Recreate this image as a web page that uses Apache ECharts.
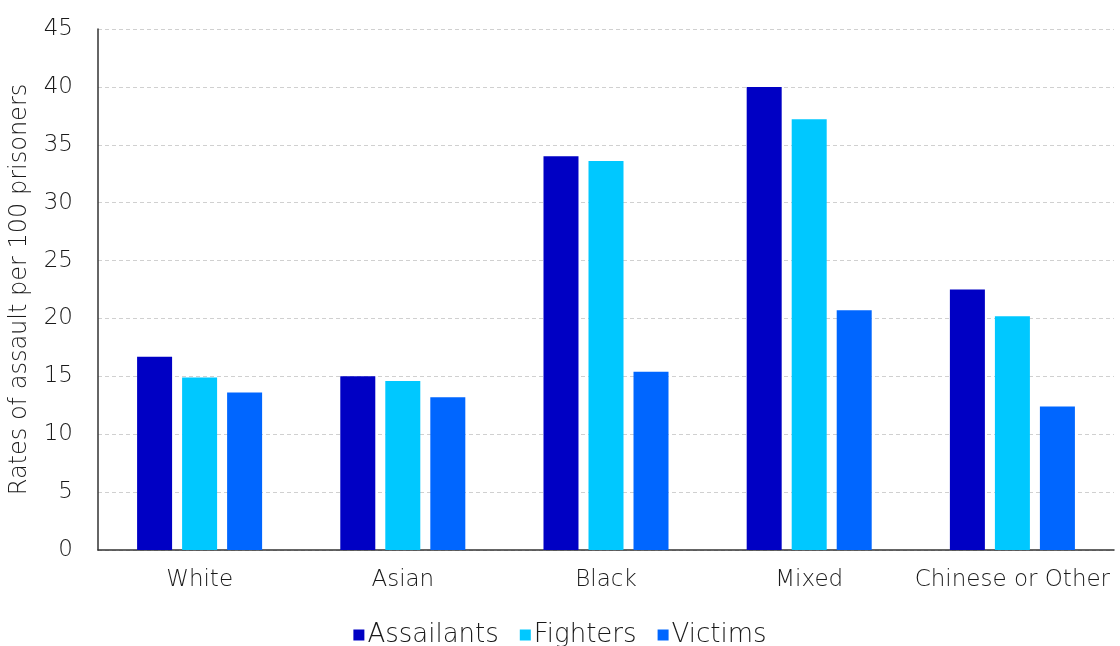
<!DOCTYPE html>
<html><head><meta charset="utf-8">
<script src="https://cdn.jsdelivr.net/npm/echarts@6/dist/echarts.min.js"></script>
<style>html,body{margin:0;padding:0;background:#fff}#c{width:1120px;height:646px}</style>
</head><body><div id="c"></div>
<script>
const categories = ["White", "Asian", "Black", "Mixed", "Chinese or Other"];
const assailants = [16.7, 15.0, 34.0, 40.0, 22.5];
const fighters = [14.9, 14.6, 33.6, 37.2, 20.2];
const victims = [13.6, 13.2, 15.4, 20.7, 12.4];
const yTicks = [0, 5, 10, 15, 20, 25, 30, 35, 40, 45];

const font = "'DejaVu Sans', Verdana, sans-serif";
const txt = '#1a1a1a';
const chart = echarts.init(document.getElementById('c'), null, {renderer: 'canvas'});
chart.setOption({
  animation: false,
  backgroundColor: '#fff',
  grid: {left: 98, right: 6, top: 29, bottom: 96, containLabel: false},
  legend: {
    top: 617, left: 'center', itemWidth: 11, itemHeight: 11, itemGap: 21,
    icon: 'rect',
    textStyle: {fontFamily: font, fontSize: 26, fontWeight: 200, color: txt, padding: [0, 0, 0, -2]},
    data: ['Assailants', 'Fighters', 'Victims']
  },
  xAxis: {
    type: 'category', data: categories,
    axisLine: {lineStyle: {color: '#333', width: 1.5}},
    axisTick: {show: false},
    axisLabel: {fontFamily: font, fontSize: 23, fontWeight: 200, color: txt, margin: 19, interval: 0}
  },
  yAxis: {
    type: 'value', min: yTicks[0], max: yTicks[yTicks.length - 1], interval: 5,
    name: 'Rates of assault per 100 prisoners', nameLocation: 'middle', nameGap: 66,
    nameTextStyle: {fontFamily: font, fontSize: 24, fontWeight: 200, color: txt},
    axisLine: {show: true, lineStyle: {color: '#333', width: 1.5}},
    axisTick: {show: false},
    axisLabel: {fontFamily: font, fontSize: 23, fontWeight: 200, color: txt, margin: 25},
    splitLine: {lineStyle: {color: '#d0d0d0', type: [4, 3]}}
  },
  series: [
    {name: 'Assailants', type: 'bar', data: assailants, barWidth: 35, barGap: '28.6%', itemStyle: {color: '#0000c4'}},
    {name: 'Fighters', type: 'bar', data: fighters, barWidth: 35, barGap: '28.6%', itemStyle: {color: '#00c8ff'}},
    {name: 'Victims', type: 'bar', data: victims, barWidth: 35, barGap: '28.6%', itemStyle: {color: '#0066ff'}}
  ]
});
</script></body></html>
